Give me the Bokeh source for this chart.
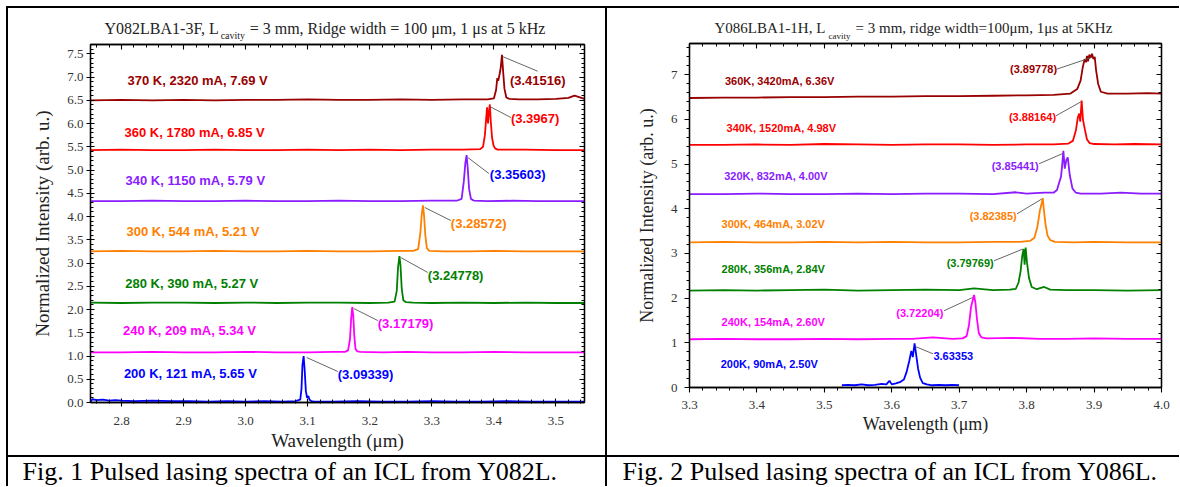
from bokeh.plotting import figure
from bokeh.models import (Range1d, LinearAxis, SingleIntervalTicker, PrintfTickFormatter,
                          Label, Div)
from bokeh.layouts import row, column
from bokeh.core.properties import value
from bokeh.embed import file_html
from bokeh.resources import INLINE

SERIF = "Liberation Serif"
SANS = "Liberation Sans"

# ---------------- Fig. 1 data (Y082L) ----------------
l200_x = [2.750, 2.753, 2.760, 2.770, 2.780, 2.790, 2.800, 2.820, 2.850, 2.880, 2.910, 2.940, 2.970, 3.000, 3.030, 3.060, 3.080, 3.088, 3.090, 3.0915, 3.0934, 3.0950, 3.0970, 3.0990, 3.1010, 3.1030, 3.1060, 3.1100, 3.1400, 3.1800, 3.2200, 3.2600, 3.3000, 3.3400, 3.3800, 3.4200, 3.4600, 3.5000, 3.5460]
l200_y = [0.02, 0.07, 0.05, 0.06, 0.04, 0.05, 0.04, 0.03, 0.04, 0.03, 0.03, 0.02, 0.03, 0.02, 0.03, 0.02, 0.03, 0.06, 0.30, 0.80, 1.00, 0.72, 0.25, 0.10, 0.14, 0.06, 0.03, 0.02, 0.02, 0.03, 0.02, 0.02, 0.03, 0.02, 0.02, 0.03, 0.02, 0.02, 0.02]

l240_x = [2.750, 2.800, 2.850, 2.900, 2.950, 3.000, 3.050, 3.100, 3.140, 3.160, 3.165, 3.168, 3.1700, 3.1718, 3.1735, 3.1750, 3.1770, 3.1800, 3.1850, 3.2200, 3.2600, 3.3000, 3.3500, 3.4000, 3.4500, 3.5000, 3.5460]
l240_y = [1.08, 1.08, 1.09, 1.08, 1.08, 1.09, 1.08, 1.08, 1.09, 1.09, 1.12, 1.35, 1.80, 2.05, 1.85, 1.45, 1.15, 1.10, 1.09, 1.08, 1.09, 1.08, 1.08, 1.09, 1.08, 1.08, 1.08]

l280_x = [2.750, 2.800, 2.850, 2.900, 2.950, 3.000, 3.050, 3.100, 3.150, 3.200, 3.230, 3.240, 3.2435, 3.2455, 3.2478, 3.2495, 3.2515, 3.2540, 3.2580, 3.2700, 3.3000, 3.3500, 3.4000, 3.4500, 3.5000, 3.5460]
l280_y = [2.15, 2.14, 2.15, 2.15, 2.14, 2.15, 2.14, 2.15, 2.15, 2.14, 2.15, 2.17, 2.40, 2.90, 3.15, 2.95, 2.45, 2.20, 2.16, 2.15, 2.14, 2.15, 2.14, 2.15, 2.14, 2.14]

l300_x = [2.750, 2.800, 2.850, 2.900, 2.950, 3.000, 3.050, 3.100, 3.150, 3.200, 3.250, 3.270, 3.278, 3.2815, 3.2838, 3.2857, 3.2875, 3.2895, 3.2920, 3.2960, 3.3200, 3.3600, 3.4000, 3.4500, 3.5000, 3.5460]
l300_y = [3.25, 3.26, 3.25, 3.25, 3.26, 3.25, 3.25, 3.26, 3.25, 3.25, 3.26, 3.26, 3.30, 3.65, 4.05, 4.24, 4.02, 3.60, 3.32, 3.26, 3.25, 3.25, 3.26, 3.25, 3.25, 3.25]

l340_x = [2.750, 2.800, 2.850, 2.900, 2.950, 3.000, 3.050, 3.100, 3.150, 3.200, 3.250, 3.300, 3.340, 3.348, 3.3515, 3.3540, 3.3560, 3.3578, 3.3600, 3.3630, 3.3680, 3.3900, 3.4300, 3.4700, 3.5100, 3.5460]
l340_y = [4.33, 4.33, 4.34, 4.33, 4.33, 4.34, 4.33, 4.33, 4.34, 4.33, 4.33, 4.34, 4.34, 4.38, 4.75, 5.15, 5.32, 5.05, 4.60, 4.38, 4.34, 4.33, 4.34, 4.33, 4.33, 4.33]

l360_x = [2.750, 2.800, 2.850, 2.900, 2.950, 3.000, 3.050, 3.100, 3.150, 3.200, 3.250, 3.300, 3.350, 3.378, 3.3825, 3.3855, 3.3875, 3.3890, 3.3905, 3.3920, 3.3935, 3.3950, 3.3970, 3.3995, 3.4025, 3.4060, 3.4150, 3.4500, 3.5000, 3.5460]
l360_y = [5.43, 5.44, 5.43, 5.43, 5.44, 5.43, 5.43, 5.44, 5.43, 5.44, 5.43, 5.44, 5.44, 5.45, 5.50, 5.75, 6.10, 6.35, 6.00, 6.25, 6.41, 6.05, 5.70, 5.52, 5.46, 5.44, 5.44, 5.44, 5.43, 5.43]

l370_x = [2.750, 2.800, 2.850, 2.900, 2.950, 3.000, 3.050, 3.100, 3.150, 3.200, 3.250, 3.300, 3.350, 3.390, 3.400, 3.4035, 3.4055, 3.4070, 3.4090, 3.4110, 3.4130, 3.4150, 3.4170, 3.4200, 3.4250, 3.4400, 3.4700, 3.5000, 3.5200, 3.5300, 3.5460]
l370_y = [6.50, 6.51, 6.50, 6.51, 6.50, 6.51, 6.51, 6.52, 6.51, 6.51, 6.52, 6.51, 6.52, 6.52, 6.54, 6.72, 6.98, 6.92, 7.05, 7.20, 7.48, 7.10, 6.75, 6.56, 6.53, 6.52, 6.52, 6.53, 6.55, 6.60, 6.53]

left_colors = ["#0000ff", "#ff00ff", "#008000", "#ff8000", "#8a1cff", "#ff0000", "#990000"]
left_cond = ["200 K, 121 mA, 5.65 V", "240 K, 209 mA, 5.34 V", "280 K, 390 mA, 5.27 V",
             "300 K, 544 mA, 5.21 V", "340 K, 1150 mA, 5.79 V", "360 K, 1780 mA, 6.85 V",
             "370 K, 2320 mA, 7.69 V"]
left_cond_x = [2.8038, 2.8024, 2.8060, 2.8080, 2.8065, 2.8048, 2.8097]
left_cond_y = [0.617, 1.548, 2.559, 3.677, 4.774, 5.813, 6.925]
left_peak = ["(3.09339)", "(3.17179)", "(3.24778)", "(3.28572)", "(3.35603)", "(3.3967)", "(3.41516)"]
left_peak_colors = ["#0000ff", "#ff00ff", "#008000", "#ff8000", "#0000ff", "#ff0000", "#990000"]
left_peak_x = [3.1484, 3.2129, 3.2935, 3.3306, 3.3935, 3.4274, 3.4258]
left_peak_y = [0.602, 1.699, 2.731, 3.849, 4.903, 6.108, 6.925]
left_lead_x0 = [3.0984, 3.1742, 3.2500, 3.2887, 3.3580, 3.3935, 3.4140]
left_lead_y0 = [0.968, 2.022, 3.118, 4.194, 5.269, 6.366, 7.441]
left_lead_x1 = [3.1484, 3.2129, 3.2935, 3.3306, 3.3920, 3.4274, 3.4705]
left_lead_y1 = [0.667, 1.763, 2.796, 3.914, 4.925, 6.129, 7.125]

# ---------------- Fig. 2 data (Y086L) ----------------
r200_x = [3.526, 3.535, 3.545, 3.555, 3.565, 3.575, 3.585, 3.592, 3.5965, 3.600, 3.606, 3.612, 3.618, 3.622, 3.626, 3.6290, 3.6312, 3.6338, 3.6360, 3.6390, 3.6420, 3.6460, 3.6520, 3.6600, 3.6700, 3.6800, 3.6900, 3.6997]
r200_y = [0.05, 0.06, 0.05, 0.07, 0.05, 0.06, 0.08, 0.07, 0.15, 0.07, 0.09, 0.12, 0.18, 0.35, 0.60, 0.82, 0.68, 0.99, 0.75, 0.42, 0.22, 0.10, 0.07, 0.05, 0.06, 0.05, 0.06, 0.05]

r240_x = [3.300, 3.350, 3.400, 3.450, 3.500, 3.550, 3.600, 3.630, 3.661, 3.690, 3.705, 3.711, 3.7145, 3.7175, 3.7200, 3.7220, 3.7240, 3.7262, 3.7290, 3.7330, 3.7400, 3.7800, 3.8200, 3.8600, 3.9000, 3.9500, 4.0000]
r240_y = [1.08, 1.09, 1.08, 1.08, 1.09, 1.08, 1.09, 1.09, 1.12, 1.09, 1.10, 1.15, 1.40, 1.80, 1.95, 2.07, 1.90, 1.55, 1.22, 1.12, 1.10, 1.11, 1.09, 1.09, 1.10, 1.09, 1.09]

r280_x = [3.300, 3.350, 3.400, 3.450, 3.500, 3.550, 3.600, 3.650, 3.700, 3.722, 3.750, 3.775, 3.784, 3.788, 3.791, 3.7935, 3.7955, 3.7970, 3.7985, 3.8005, 3.8035, 3.8075, 3.8150, 3.8260, 3.8350, 3.8600, 3.9000, 3.9500, 4.0000]
r280_y = [2.17, 2.18, 2.17, 2.18, 2.19, 2.17, 2.18, 2.19, 2.18, 2.22, 2.18, 2.19, 2.21, 2.35, 2.60, 2.95, 3.10, 2.75, 3.13, 2.80, 2.45, 2.25, 2.20, 2.25, 2.19, 2.18, 2.18, 2.17, 2.18]

r300_x = [3.300, 3.350, 3.400, 3.450, 3.500, 3.550, 3.600, 3.650, 3.700, 3.750, 3.790, 3.805, 3.8115, 3.8160, 3.8195, 3.8220, 3.8239, 3.8255, 3.8280, 3.8310, 3.8350, 3.8420, 3.8700, 3.9000, 3.9500, 4.0000]
r300_y = [3.25, 3.26, 3.25, 3.25, 3.26, 3.25, 3.26, 3.25, 3.25, 3.26, 3.26, 3.28, 3.35, 3.60, 3.95, 4.10, 4.24, 3.98, 3.65, 3.40, 3.30, 3.26, 3.25, 3.26, 3.25, 3.25]

r320_x = [3.300, 3.350, 3.400, 3.450, 3.500, 3.550, 3.600, 3.650, 3.700, 3.750, 3.784, 3.800, 3.826, 3.840, 3.8450, 3.8485, 3.8510, 3.8525, 3.8545, 3.8565, 3.8590, 3.8610, 3.8640, 3.8680, 3.8730, 3.8800, 3.9100, 3.9400, 3.9700, 4.0000]
r320_y = [4.33, 4.33, 4.34, 4.33, 4.33, 4.34, 4.33, 4.34, 4.34, 4.33, 4.37, 4.34, 4.36, 4.36, 4.42, 4.60, 4.72, 4.95, 5.30, 4.90, 5.10, 5.15, 4.75, 4.45, 4.36, 4.34, 4.34, 4.36, 4.34, 4.34]

r340_x = [3.300, 3.350, 3.400, 3.450, 3.500, 3.550, 3.600, 3.650, 3.700, 3.750, 3.800, 3.840, 3.862, 3.8685, 3.8730, 3.8760, 3.8780, 3.8795, 3.8816, 3.8835, 3.8860, 3.8895, 3.8935, 3.9000, 3.9300, 3.9600, 4.0000]
r340_y = [5.43, 5.43, 5.44, 5.43, 5.45, 5.44, 5.43, 5.44, 5.44, 5.43, 5.44, 5.44, 5.46, 5.52, 5.75, 6.05, 6.13, 5.95, 6.42, 6.00, 5.80, 5.55, 5.47, 5.45, 5.44, 5.45, 5.44]

r360_x = [3.300, 3.350, 3.400, 3.450, 3.500, 3.550, 3.600, 3.650, 3.700, 3.750, 3.800, 3.840, 3.865, 3.875, 3.8800, 3.8830, 3.8860, 3.8880, 3.8895, 3.8910, 3.8930, 3.8950, 3.8970, 3.8990, 3.9010, 3.9030, 3.9060, 3.9100, 3.9200, 3.9500, 3.9800, 4.0000]
r360_y = [6.48, 6.49, 6.49, 6.50, 6.50, 6.51, 6.51, 6.52, 6.52, 6.53, 6.54, 6.55, 6.58, 6.68, 6.87, 7.15, 7.35, 7.28, 7.42, 7.30, 7.45, 7.38, 7.47, 7.35, 7.40, 7.10, 6.80, 6.62, 6.58, 6.58, 6.59, 6.58]

right_colors = ["#0000ff", "#ff00ff", "#008000", "#ff8000", "#8a1cff", "#ff0000", "#990000"]
right_cond = ["200K, 90mA, 2.50V", "240K, 154mA, 2.60V", "280K, 356mA, 2.84V",
              "300K, 464mA, 3.02V", "320K, 832mA,  4.00V", "340K, 1520mA, 4.98V",
              "360K, 3420mA, 6.36V"]
right_cond_x = [3.3463, 3.3476, 3.3476, 3.3476, 3.3515, 3.3550, 3.3525]
right_cond_y = [0.524, 1.455, 2.650, 3.658, 4.724, 5.807, 6.866]
right_peak = ["(3.72204)", "(3.79769)", "(3.82385)", "(3.85441)", "(3.88164)", "(3.89778)"]
right_peak_colors = ["#ff00ff", "#008000", "#ff8000", "#8a1cff", "#ff0000", "#990000"]
right_peak_x = [3.6764, 3.7512, 3.7853, 3.8180, 3.8436, 3.8451]
right_peak_y = [1.666, 2.785, 3.828, 4.947, 6.060, 7.135]
right_lead_x0 = [3.6774, 3.7516, 3.7858, 3.8184, 3.8436, 3.8451, 3.6349]
right_lead_y0 = [1.717, 2.836, 3.888, 5.008, 6.083, 7.128, 0.918]
right_lead_x1 = [3.7200, 3.7942, 3.8224, 3.8536, 3.8807, 3.8963, 3.6611]
right_lead_y1 = [2.015, 3.098, 4.218, 5.238, 6.396, 7.388, 0.754]
blue_peak_text = "3.63353"

titles = [("Y082LBA1-3F, L", "cavity", "= 3 mm, Ridge width = 100 μm, 1 μs at 5 kHz"),
          ("Y086LBA1-1H, L", "cavity", "= 3 mm, ridge width=100μm, 1μs at 5KHz")]
title_x = [[2.7726, 2.9597, 3.0065], [3.3371, 3.5062, 3.5463]]
captions = ["Fig. 1 Pulsed lasing spectra of an ICL from Y082L.",
            "Fig. 2 Pulsed lasing spectra of an ICL from Y086L."]


def style_axis(ax, tin, tout, min_in, min_out, labels=True, fmt="%.1f", standoff=4):
    ax.axis_line_color = "black"
    ax.axis_line_width = 1.3
    ax.major_tick_line_color = "black"
    ax.minor_tick_line_color = "black"
    ax.major_tick_line_width = 1.1
    ax.minor_tick_line_width = 1
    ax.major_tick_in = tin
    ax.major_tick_out = tout
    ax.minor_tick_in = min_in
    ax.minor_tick_out = min_out
    ax.major_label_text_font = SERIF
    ax.major_label_text_font_size = "13px"
    ax.major_label_text_color = "#333333"
    ax.major_label_standoff = standoff
    ax.formatter = PrintfTickFormatter(format=fmt)
    if not labels:
        ax.major_label_text_font_size = "0px"
        ax.major_label_text_color = None
        ax.major_label_standoff = 0


def axis_label(ax, text, size, standoff):
    ax.axis_label = text
    ax.axis_label_text_font = SERIF
    ax.axis_label_text_font_style = "normal"
    ax.axis_label_text_font_size = size
    ax.axis_label_text_color = "#222222"
    ax.axis_label_standoff = standoff


def make_panel(width, height, xr, yr, bl, br, bt, bb, xint, yint):
    p = figure(width=width, height=height, title=None,
               x_range=xr, y_range=Range1d(*yr),
               min_border_left=bl, min_border_right=br, min_border_top=bt, min_border_bottom=bb,
               output_backend="svg", toolbar_location=None)
    p.xgrid.visible = False
    p.ygrid.visible = False
    p.outline_line_color = "black"
    p.outline_line_width = 1.3
    p.background_fill_color = "white"
    p.border_fill_color = "white"
    bottom = p.below[0]
    left = p.left[0]
    xt = SingleIntervalTicker(interval=xint, num_minor_ticks=5)
    yt = SingleIntervalTicker(interval=yint, num_minor_ticks=5)
    bottom.ticker = xt
    left.ticker = yt
    top = LinearAxis(ticker=xt)
    right = LinearAxis(ticker=yt)
    p.add_layout(top, "above")
    p.add_layout(right, "right")
    return p, bottom, left, top, right


def text_fig(w, h, xr, bl=0, br=0):
    c = figure(width=w, height=h, title=None, x_range=xr, y_range=Range1d(0, h),
               min_border=0, min_border_left=bl, min_border_right=br,
               min_border_top=0, min_border_bottom=0,
               x_axis_location=None, y_axis_location=None,
               output_backend="svg", toolbar_location=None)
    c.grid.visible = False
    c.outline_line_color = None
    c.background_fill_color = "white"
    c.border_fill_color = "white"
    return c


def add_title(c, parts, xs, base_y, sub_y, size, sub_size):
    c.add_layout(Label(x=xs[0], y=base_y, text=parts[0], text_font=SERIF, text_font_size=size,
                       text_color="#222222", text_baseline="middle"))
    c.add_layout(Label(x=xs[1], y=sub_y, text=parts[1], text_font=SERIF, text_font_size=sub_size,
                       text_color="#222222", text_baseline="middle"))
    c.add_layout(Label(x=xs[2], y=base_y, text=parts[2], text_font=SERIF, text_font_size=size,
                       text_color="#222222", text_baseline="middle"))


# ---------------- Figure 1 ----------------
xr1 = Range1d(2.75, 3.546)
p1, b1, l1, t1, r1 = make_panel(597, 413, xr1, (0, 7.7), 82, 21, 2, 53, 0.1, 0.5)
style_axis(b1, 4, 4, 3, 1, standoff=10)
style_axis(l1, 4, 4, 3, 0, standoff=3)
style_axis(t1, 5, 0, 3, 0, labels=False)
style_axis(r1, 5, 0, 3, 0, labels=False)
axis_label(b1, "Wavelength (μm)", "19px", 2)
axis_label(l1, "Normalized Intensity (arb. u.)", "19px", 11)

left_series = [(l200_x, l200_y), (l240_x, l240_y), (l280_x, l280_y), (l300_x, l300_y),
               (l340_x, l340_y), (l360_x, l360_y), (l370_x, l370_y)]
for (xs, ys), c in zip(left_series, left_colors):
    p1.line(xs, ys, line_color=c, line_width=1.8)

p1.segment(left_lead_x0, left_lead_y0, left_lead_x1, left_lead_y1, line_color="#555555", line_width=0.9)
p1.text(left_cond_x, left_cond_y, text=left_cond, text_color=left_colors,
        text_font=value(SANS), text_font_style="bold", text_font_size="13px",
        text_baseline="middle", text_align="left")
p1.text(left_peak_x, left_peak_y, text=left_peak, text_color=left_peak_colors,
        text_font=value(SANS), text_font_style="bold", text_font_size="13px",
        text_baseline="middle", text_align="left")

T1 = text_fig(597, 34, xr1, 82, 21)
add_title(T1, titles[0], title_x[0], 14.4, 7.4, "16px", "10px")

# ---------------- Figure 2 ----------------
xr2 = Range1d(3.3, 4.0)
p2, b2, l2, t2, r2 = make_panel(572, 413, xr2, (0, 7.7), 82, 18, 1, 68, 0.1, 1)
style_axis(b2, 0, 5, 0, 3, standoff=8)
style_axis(l2, 0, 5, 0, 3, fmt="%d", standoff=7)
style_axis(t2, 5, 0, 3, 0, labels=False, fmt="%.1f")
style_axis(r2, 5, 0, 3, 0, labels=False, fmt="%d")
axis_label(b2, "Wavelength (μm)", "18px", 2)
axis_label(l2, "Normalized Intensity (arb. u.)", "18px", 11)

right_series = [(r200_x, r200_y), (r240_x, r240_y), (r280_x, r280_y), (r300_x, r300_y),
                (r320_x, r320_y), (r340_x, r340_y), (r360_x, r360_y)]
for (xs, ys), c in zip(right_series, right_colors):
    p2.line(xs, ys, line_color=c, line_width=1.8)

p2.segment(right_lead_x0, right_lead_y0, right_lead_x1, right_lead_y1, line_color="#555555", line_width=0.9)
p2.text(right_cond_x, right_cond_y, text=right_cond, text_color=right_colors,
        text_font=value(SANS), text_font_style="bold", text_font_size="11px",
        text_baseline="middle", text_align="left")
p2.text(right_peak_x, right_peak_y, text=right_peak, text_color=right_peak_colors,
        text_font=value(SANS), text_font_style="bold", text_font_size="11px",
        text_baseline="middle", text_align="right")
p2.text([3.6617], [0.694], text=[blue_peak_text], text_color="#0000ff",
        text_font=value(SANS), text_font_style="bold", text_font_size="11px",
        text_baseline="middle", text_align="left")

T2 = text_fig(572, 34, xr2, 82, 18)
add_title(T2, titles[1], title_x[1], 14.1, 7.0, "15px", "9px")

# ---------------- captions ----------------
c1 = text_fig(597, 29, Range1d(0, 597))
c1.add_layout(Label(x=14, y=14.8, text=captions[0], text_font=SERIF, text_font_size="26px",
                    text_color="black", text_baseline="middle"))
c2 = text_fig(572, 29, Range1d(0, 572))
c2.add_layout(Label(x=15, y=14.8, text=captions[1], text_font=SERIF, text_font_size="26px",
                    text_color="black", text_baseline="middle"))


def bar(w, h, color="black"):
    return Div(text="", width=w, height=h, margin=(0, 0, 0, 0),
               styles={"background-color": color})


layout = column(
    bar(1179, 6, "white"),
    row(bar(6, 2, "white"), bar(1173, 2), spacing=0),
    row(bar(6, 447, "white"), bar(2, 447), column(T1, p1, spacing=0), bar(2, 447),
        column(T2, p2, spacing=0), spacing=0),
    row(bar(6, 2, "white"), bar(1173, 2), spacing=0),
    row(bar(6, 29, "white"), bar(2, 29), c1, bar(2, 29), c2, spacing=0),
    spacing=0,
)

open("out.html", "w").write(file_html(layout, INLINE))
